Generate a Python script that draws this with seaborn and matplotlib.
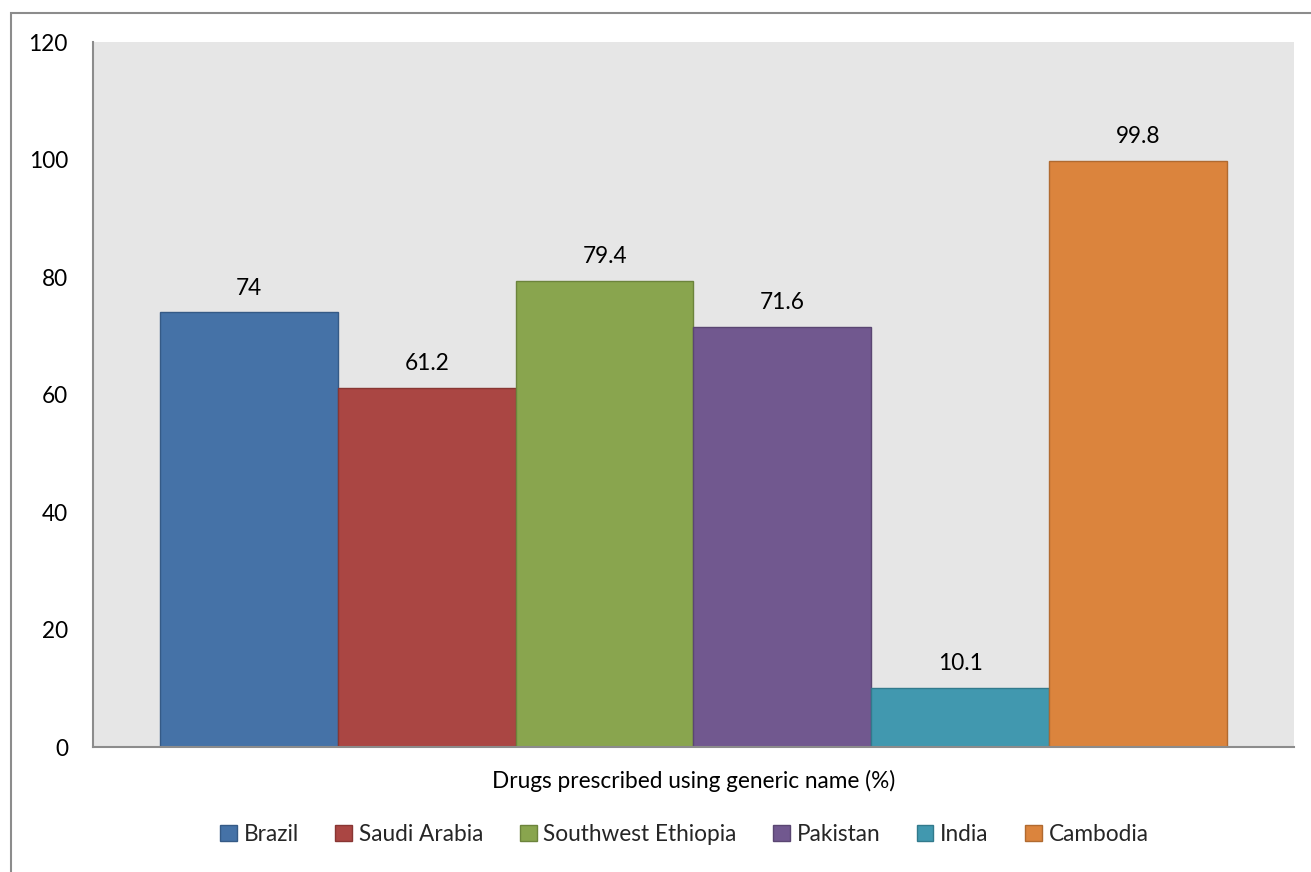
import matplotlib
matplotlib.use("Agg")
import matplotlib.pyplot as plt
import matplotlib.patches as mpatches
import seaborn as sns
import pandas as pd

# Data
countries = ["Brazil", "Saudi Arabia", "Southwest Ethiopia", "Pakistan", "India", "Cambodia"]
values = [74, 61.2, 79.4, 71.6, 10.1, 99.8]
value_labels = ["74", "61.2", "79.4", "71.6", "10.1", "99.8"]
category = "Drugs prescribed using generic name (%)"
y_ticks = [0, 20, 40, 60, 80, 100, 120]

fill_colors = ["#4572A7", "#AA4643", "#89A54E", "#71588F", "#4198AF", "#DB843D"]
edge_colors = ["#355A86", "#883633", "#6C843C", "#5A4672", "#327A8C", "#B06A30"]

df = pd.DataFrame({"category": [category] * len(countries),
                   "country": countries,
                   "value": values})

sns.set_theme(style="white")
plt.rcParams["font.family"] = ["Lato", "DejaVu Sans"]
FS = 16.3

fig = plt.figure(figsize=(13.11, 8.72), dpi=100)
ax = fig.add_axes([0.0709, 0.1428, 0.9161, 0.809])
ax.set_facecolor("#E6E6E6")

sns.barplot(data=df, x="category", y="value", hue="country",
            hue_order=countries, palette=fill_colors, width=0.888,
            saturation=1, legend=False, ax=ax)

for patch, ec, lab in zip(ax.patches, edge_colors, value_labels):
    patch.set_edgecolor(ec)
    patch.set_linewidth(1.0)
    cx = patch.get_x() + patch.get_width() / 2
    ax.annotate(lab, (cx, patch.get_height()), xytext=(0, 17.5),
                textcoords="offset points", ha="center", va="center",
                fontsize=FS, color="black")

ax.set_xlim(-0.5, 0.5)
ax.set_ylim(0, 120)
ax.set_yticks(y_ticks)
ax.set_yticklabels([str(t) for t in y_ticks], fontsize=FS, color="black")
ax.tick_params(axis="y", length=0, pad=18)
ax.set_xticks([])
ax.set_xlabel(category, fontsize=FS, labelpad=16, color="black")
ax.set_ylabel("")

for side in ["top", "right"]:
    ax.spines[side].set_visible(False)
for side in ["left", "bottom"]:
    ax.spines[side].set_color("#8C8C8C")
    ax.spines[side].set_linewidth(1.5)

handles = [mpatches.Patch(facecolor=fc, edgecolor=ec, linewidth=1.0, label=c)
           for c, fc, ec in zip(countries, fill_colors, edge_colors)]
fig.legend(handles=handles, loc="center", bbox_to_anchor=(0.522, 0.043),
           ncol=6, frameon=False, fontsize=FS, handlelength=0.75,
           handleheight=0.75, handletextpad=0.3, columnspacing=1.6)

# Chart border
fig.patches.append(mpatches.Rectangle((11 / 1311, -0.05), 1.1, (872 - 13) / 872 + 0.05,
                                      transform=fig.transFigure, fill=False,
                                      edgecolor="#8C8C8C", linewidth=1.5))

fig.savefig("out.png", dpi=100)
